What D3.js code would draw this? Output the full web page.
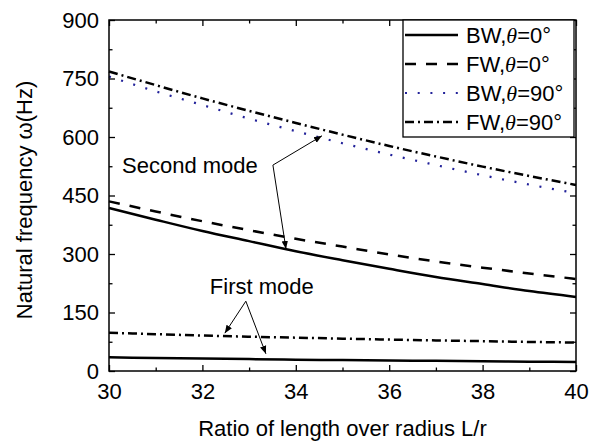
<!DOCTYPE html>
<html>
<head>
<meta charset="utf-8">
<script src="https://cdn.jsdelivr.net/npm/d3@7/dist/d3.min.js"></script>
<style>
  body { margin: 0; background: #fff; }
  text { font-family: "Liberation Sans", Arial, sans-serif; }
</style>
</head>
<body>
<div id="plot"></div>
<script>
// ratio L/r
var ratio = [30, 31, 32, 33, 34, 35, 36, 37, 38, 39, 40];

// second mode
var bw0Second = [418, 388, 359, 333, 307, 284, 262, 241, 223, 205, 190];
var fw0Second = [435, 409, 384, 361, 339, 319, 299, 281, 265, 250, 236];
var bw90Second = [755, 717, 682, 647, 615, 584, 555, 528, 502, 478, 456];
var fw90Second = [768, 733, 699, 667, 636, 606, 577, 550, 524, 500, 477];

// first mode
var bw0First = [35, 33.5, 32, 30.5, 29, 28, 27, 26, 25, 24, 23];
var fw90First = [98, 94.5, 91, 88, 85.5, 83, 80.5, 78.5, 76.5, 74.5, 73];

var xTicks = [30, 32, 34, 36, 38, 40],
    xMinor = [31, 33, 35, 37, 39],
    yTicks = [0, 150, 300, 450, 600, 750, 900],
    yMinor = [75, 225, 375, 525, 675, 825];

var legendLabels = [
  {name: 'BW,', angle: '=0°'},
  {name: 'FW,', angle: '=0°'},
  {name: 'BW,', angle: '=90°'},
  {name: 'FW,', angle: '=90°'}
];

// annotations, in data units
var secondMode = {label: [30.28, 508], from: [33.51, 528], to: [[34.56, 603], [33.79, 313]]};
var firstMode = {label: [32.16, 197], from: [32.93, 179], to: [[32.48, 97], [33.36, 44]]};

var margin = {t: 20, r: 13, b: 71, l: 109};
var W = 589, H = 442;
var width = W - margin.l - margin.r,
    height = H - margin.t - margin.b;

var svg = d3.select('#plot').append('svg')
  .attr('width', W).attr('height', H);

var defs = svg.append('defs');
defs.append('marker')
  .attr('id', 'arrow')
  .attr('viewBox', '0 0 10 10')
  .attr('refX', 10).attr('refY', 5)
  .attr('markerWidth', 8).attr('markerHeight', 8)
  .attr('markerUnits', 'userSpaceOnUse')
  .attr('orient', 'auto')
  .append('path').attr('d', 'M0,1 L10,5 L0,9 Z').attr('fill', '#000');

var x = d3.scaleLinear().domain([30, 40]).range([0, width]);
var y = d3.scaleLinear().domain([0, 900]).range([height, 0]);

var g = svg.append('g').attr('transform', 'translate(' + margin.l + ',' + margin.t + ')');

// axes (ticks pointing in)
function styleAxis(sel) {
  sel.select('.domain').remove();
  sel.selectAll('line').attr('stroke', '#000').attr('stroke-width', 1.3);
  sel.selectAll('text').attr('font-size', 22).attr('fill', '#000')
    .style('font-family', '"Liberation Sans", Arial, sans-serif');
}

g.append('g').attr('transform', 'translate(0,' + height + ')')
  .call(d3.axisBottom(x).tickValues(xTicks).tickSizeInner(-6).tickSizeOuter(0).tickPadding(12).tickFormat(d3.format('d')))
  .call(styleAxis);
g.append('g').attr('transform', 'translate(0,' + height + ')')
  .call(d3.axisBottom(x).tickValues(xMinor).tickSizeInner(-3.5).tickSizeOuter(0).tickFormat(''))
  .call(styleAxis);
g.append('g')
  .call(d3.axisTop(x).tickValues(xTicks).tickSizeInner(-6).tickSizeOuter(0).tickFormat(''))
  .call(styleAxis);
g.append('g')
  .call(d3.axisTop(x).tickValues(xMinor).tickSizeInner(-3.5).tickSizeOuter(0).tickFormat(''))
  .call(styleAxis);

g.append('g')
  .call(d3.axisLeft(y).tickValues(yTicks).tickSizeInner(-6).tickSizeOuter(0).tickPadding(10))
  .call(styleAxis);
g.append('g')
  .call(d3.axisLeft(y).tickValues(yMinor).tickSizeInner(-3.5).tickSizeOuter(0).tickFormat(''))
  .call(styleAxis);
g.append('g').attr('transform', 'translate(' + width + ',0)')
  .call(d3.axisRight(y).tickValues(yTicks).tickSizeInner(-6).tickSizeOuter(0).tickFormat(''))
  .call(styleAxis);
g.append('g').attr('transform', 'translate(' + width + ',0)')
  .call(d3.axisRight(y).tickValues(yMinor).tickSizeInner(-3.5).tickSizeOuter(0).tickFormat(''))
  .call(styleAxis);

// series
var styles = {
  solid: {stroke: '#000', dash: null, w: 2.5},
  dash: {stroke: '#000', dash: '11,10', w: 2.5},
  dot: {stroke: '#22229a', dash: '2,10.7', w: 2.2},
  dashdot: {stroke: '#000', dash: '9,4,2,4', w: 2.5}
};

var line = d3.line()
  .x(function(d){ return x(d[0]); })
  .y(function(d){ return y(d[1]); })
  .curve(d3.curveMonotoneX);

var series = [
  {vals: bw0First, st: styles.solid},
  {vals: fw90First, st: styles.dashdot},
  {vals: bw0Second, st: styles.solid},
  {vals: fw0Second, st: styles.dash},
  {vals: bw90Second, st: styles.dot},
  {vals: fw90Second, st: styles.dashdot}
];

g.append('g').selectAll('path')
  .data(series)
  .enter().append('path')
  .attr('d', function(s){ return line(ratio.map(function(r, i){ return [r, s.vals[i]]; })); })
  .attr('fill', 'none')
  .attr('stroke', function(s){ return s.st.stroke; })
  .attr('stroke-width', function(s){ return s.st.w; })
  .attr('stroke-dasharray', function(s){ return s.st.dash; });

// annotations
[secondMode, firstMode].forEach(function(a, k){
  g.append('text')
    .attr('x', x(a.label[0])).attr('y', y(a.label[1]))
    .attr('font-size', 22)
    .text(k === 0 ? 'Second mode' : 'First mode');
  a.to.forEach(function(t){
    g.append('line')
      .attr('x1', x(a.from[0])).attr('y1', y(a.from[1]))
      .attr('x2', x(t[0])).attr('y2', y(t[1]))
      .attr('stroke', '#000').attr('stroke-width', 1)
      .attr('marker-end', 'url(#arrow)');
  });
});

// frame
g.append('rect')
  .attr('width', width).attr('height', height)
  .attr('fill', 'none').attr('stroke', '#000').attr('stroke-width', 1.5);

// legend
var lg = g.append('g').attr('transform', 'translate(' + (403 - margin.l) + ',0)');
lg.append('rect')
  .attr('width', 171).attr('height', 117)
  .attr('fill', '#fff').attr('stroke', '#000').attr('stroke-width', 1.3);

var legendStyles = [styles.solid, styles.dash, styles.dot, styles.dashdot];
legendLabels.forEach(function(d, i){
  var by = 23 + i * 29;
  var st = legendStyles[i];
  lg.append('line')
    .attr('x1', 2).attr('x2', 55)
    .attr('y1', by - 8).attr('y2', by - 8)
    .attr('stroke', st.stroke).attr('stroke-width', st.w)
    .attr('stroke-dasharray', st.dash);
  var t = lg.append('text').attr('x', 63).attr('y', by).attr('font-size', 22);
  t.append('tspan').text(d.name);
  t.append('tspan')
    .style('font-family', '"Liberation Serif", "Times New Roman", serif')
    .attr('font-style', 'italic')
    .text('θ');
  t.append('tspan').text(d.angle);
});

// axis titles
svg.append('text')
  .attr('x', margin.l + width / 2).attr('y', 436)
  .attr('text-anchor', 'middle').attr('font-size', 22)
  .text('Ratio of length over radius L/r');

svg.append('text')
  .attr('transform', 'translate(32,200) rotate(-90)')
  .attr('text-anchor', 'middle').attr('font-size', 22)
  .text('Natural frequency ω(Hz)');
</script>
</body>
</html>
